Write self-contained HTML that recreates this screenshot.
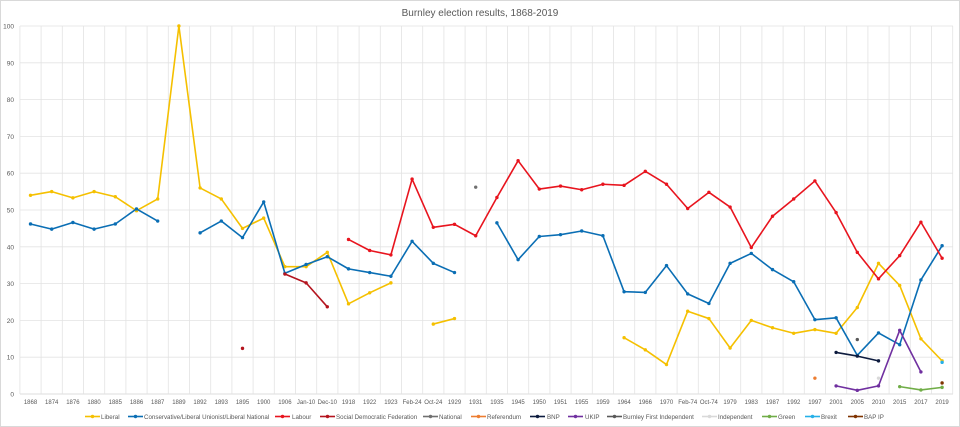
<!DOCTYPE html>
<html><head><meta charset="utf-8"><style>
html,body{margin:0;padding:0;background:#fff;}
svg{display:block;font-family:"Liberation Sans",sans-serif;}
</style></head><body>
<svg id="c" width="960" height="427" viewBox="0 0 960 427">
<rect x="0.5" y="0.5" width="959" height="426" fill="#fff" stroke="#d9d9d9"/>
<g id="grid"></g>
<text x="480" y="16" text-anchor="middle" font-size="10" fill="#595959">Burnley election  results, 1868-2019</text>
<g font-size="6.5" fill="#595959" text-anchor="end">
<text x="14" y="396.5">0</text><text x="14" y="359.7">10</text><text x="14" y="322.9">20</text><text x="14" y="286.1">30</text><text x="14" y="249.3">40</text><text x="14" y="212.5">50</text><text x="14" y="175.7">60</text><text x="14" y="138.9">70</text><text x="14" y="102.1">80</text><text x="14" y="65.3">90</text><text x="14" y="28.5">100</text>
</g>
<g font-size="6" fill="#595959" text-anchor="middle">
<text x="30.5" y="404">1868</text><text x="51.7" y="404">1874</text><text x="72.9" y="404">1876</text><text x="94.1" y="404">1880</text><text x="115.3" y="404">1885</text><text x="136.5" y="404">1886</text><text x="157.7" y="404">1887</text><text x="178.9" y="404">1889</text><text x="200.1" y="404">1892</text><text x="221.3" y="404">1893</text><text x="242.5" y="404">1895</text><text x="263.7" y="404">1900</text><text x="284.9" y="404">1906</text><text x="306.1" y="404">Jan-10</text><text x="327.3" y="404">Dec-10</text><text x="348.5" y="404">1918</text><text x="369.7" y="404">1922</text><text x="390.9" y="404">1923</text><text x="412.1" y="404">Feb-24</text><text x="433.3" y="404">Oct-24</text><text x="454.5" y="404">1929</text><text x="475.7" y="404">1931</text><text x="496.9" y="404">1935</text><text x="518.1" y="404">1945</text><text x="539.3" y="404">1950</text><text x="560.5" y="404">1951</text><text x="581.7" y="404">1955</text><text x="602.9" y="404">1959</text><text x="624.1" y="404">1964</text><text x="645.3" y="404">1966</text><text x="666.5" y="404">1970</text><text x="687.7" y="404">Feb-74</text><text x="708.9" y="404">Oct-74</text><text x="730.1" y="404">1979</text><text x="751.3" y="404">1983</text><text x="772.5" y="404">1987</text><text x="793.7" y="404">1992</text><text x="814.9" y="404">1997</text><text x="836.1" y="404">2001</text><text x="857.3" y="404">2005</text><text x="878.5" y="404">2010</text><text x="899.7" y="404">2015</text><text x="920.9" y="404">2017</text><text x="942.1" y="404">2019</text>
</g>
<g id="series"></g>
<g id="legend" font-size="6.2" fill="#595959">
<text x="101" y="419">Liberal</text>
<text x="144" y="419">Conservative/Liberal Unionist/Liberal National</text>
<text x="292" y="419">Labour</text>
<text x="336" y="419">Social Democratic Federation</text>
<text x="439" y="419">National</text>
<text x="487" y="419">Referendum</text>
<text x="547" y="419">BNP</text>
<text x="585" y="419">UKIP</text>
<text x="623" y="419">Burnley First Independent</text>
<text x="718" y="419">Independent</text>
<text x="778" y="419">Green</text>
<text x="821" y="419">Brexit</text>
<text x="864" y="419">BAP IP</text>
</g>
</svg>
<script>
var NS="http://www.w3.org/2000/svg";
function el(p,t,a){var e=document.createElementNS(NS,t);for(var k in a)e.setAttribute(k,a[k]);p.appendChild(e);return e;}
var g=document.getElementById('grid');
for(var v=0;v<=100;v+=10){var y=394-3.68*v;el(g,'line',{x1:20,x2:953,y1:y,y2:y,stroke:v==0?'#d0d0d0':'#e3e3e3','stroke-width':0.8});}
for(var k=0;k<=44;k++){var x=19.9+21.2*k;el(g,'line',{x1:x,x2:x,y1:26,y2:394,stroke:'#e3e3e3','stroke-width':0.8});}
var N=null;
var S=[
['#f5c000',[54,55,53.3,55,53.6,49.8,53,100,56,53,45,47.8,34.6,34.6,38.5,24.5,27.5,30.2,N,19,20.5,N,N,N,N,N,N,N,15.3,12,8,22.5,20.5,12.5,20,18,16.5,17.5,16.5,23.5,35.5,29.5,15,9]],
['#0a6eb4',[46.2,44.8,46.6,44.8,46.2,50.3,47,N,43.8,47,42.5,52.2,32.8,35.2,37.3,34,33,32,41.5,35.5,33,N,46.5,36.5,42.8,43.3,44.3,43,27.8,27.6,34.9,27.2,24.6,35.5,38.2,33.8,30.5,20.2,20.7,10.5,16.6,13.4,31,40.3]],
['#e8141e',[N,N,N,N,N,N,N,N,N,N,N,N,N,N,N,42,39,37.8,58.4,45.3,46.1,43,53.4,63.4,55.7,56.5,55.5,57,56.7,60.5,57,50.4,54.8,50.8,39.8,48.3,53,57.9,49.3,38.5,31.3,37.6,46.7,36.9]],
['#b4141e',[N,N,N,N,N,N,N,N,N,N,12.4,N,32.6,30.2,23.7]],
['#707070',{21:56.2}],
['#ed7d31',{37:4.3}],
['#0d1b3e',{38:11.3,39:10.3,40:9}],
['#7030a0',{38:2.2,39:1,40:2.2,41:17.3,42:6}],
['#595959',{39:14.8}],
['#d9d9d9',{40:4.3}],
['#70ad47',{41:2,42:1.1,43:1.8}],
['#26b0e8',{43:8.6}],
['#7f3300',{43:3}]
];
var sg=document.getElementById('series');
S.forEach(function(s){
  var arr=[];if(Array.isArray(s[1]))arr=s[1];else{for(var k in s[1])arr[+k]=s[1][k];}
  var pts=[];
  function flush(){if(pts.length>1)el(sg,'polyline',{points:pts.join(' '),fill:'none',stroke:s[0],'stroke-width':1.6,'stroke-linejoin':'round'});pts=[];}
  for(var i=0;i<44;i++){var v=arr[i];if(v==null||v===undefined){flush();continue;}
    var x=30.5+21.2*i,y=394-3.68*v;pts.push(x+','+y);}
  flush();
  for(var i=0;i<44;i++){var v=arr[i];if(v==null)continue;el(sg,'circle',{cx:30.5+21.2*i,cy:394-3.68*v,r:1.7,fill:s[0]});}
});
var lg=document.getElementById('legend');
var L=[[85,'#f5c000'],[128,'#0a6eb4'],[275,'#e8141e'],[320,'#b4141e'],[423,'#707070'],[471,'#ed7d31'],[530,'#0d1b3e'],[568,'#7030a0'],[607,'#595959'],[702,'#d9d9d9'],[762,'#70ad47'],[805,'#26b0e8'],[848,'#7f3300']];
L.forEach(function(l){el(lg,'line',{x1:l[0],x2:l[0]+15,y1:416.5,y2:416.5,stroke:l[1],'stroke-width':1.6});el(lg,'circle',{cx:l[0]+7.5,cy:416.5,r:1.7,fill:l[1]});});
</script>
</body></html>
